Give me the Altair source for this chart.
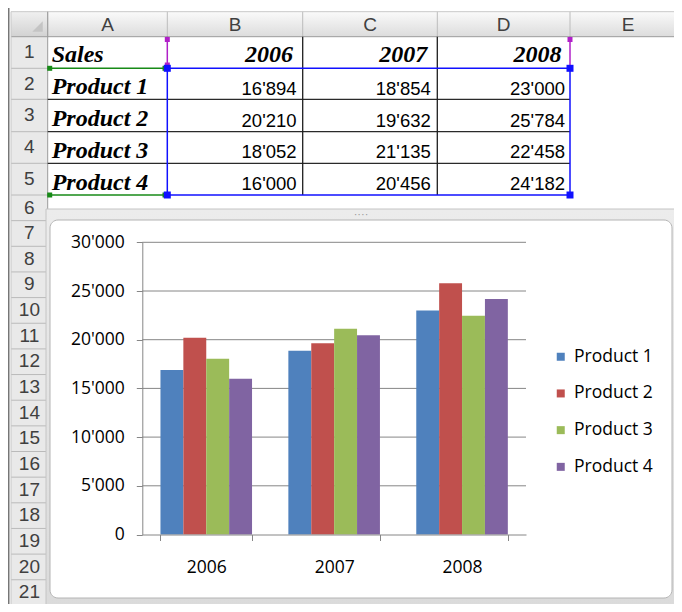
import altair as alt
import pandas as pd

# ---------------- data ----------------
years = ["2006", "2007", "2008"]
products = ["Product 1", "Product 2", "Product 3", "Product 4"]
product_1 = [16894, 18854, 23000]
product_2 = [20210, 19632, 25784]
product_3 = [18052, 21135, 22458]
product_4 = [16000, 20456, 24182]
y_ticks = [0, 5000, 10000, 15000, 20000, 25000, 30000]
table_title = "Sales"
column_letters = ["A", "B", "C", "D", "E"]
row_numbers = list(range(1, 22))
series_colors = ["#4F81BD", "#C0504D", "#9BBB59", "#8064A2"]

series = [product_1, product_2, product_3, product_4]
sales = pd.DataFrame([
    {"product": p, "year": y, "value": v}
    for p, vals in zip(products, series) for y, v in zip(years, vals)
])
sales["label"] = sales["value"].map(lambda v: f"{v:,}".replace(",", "'"))

# ---------------- layout (reference page pixels) ----------------
M = 8
W, H = 666, 596


def px(v):
    return round(v - M, 2)


COL_EDGES = [11, 47.7, 167.3, 302.7, 437.3, 570, 686]
HDR_TOP, HDR_BOT = 11.7, 36.7
ROW_EDGES = [36.7, 68.3, 99.3, 131.7, 163.3, 195] + [195 + 25.65 * k for k in range(1, 18)]
PLOT_L, PLOT_R, PLOT_T, PLOT_B = 142.3, 526, 242.3, 534.5

CHART_FONT = "Open Sans"
CHART_FS = 17.5
SHEET_FONT = "Liberation Sans"
SERIF = "Liberation Serif"
AXIS_GREY = "#868686"

PX = dict(scale=None, axis=None)


def vgrad(c1, c2):
    return alt.LinearGradient(
        gradient="linear", x1=0, x2=0, y1=0, y2=1,
        stops=[alt.GradientStop(color=c1, offset=0), alt.GradientStop(color=c2, offset=1)],
    )


def rect_layer(x1, x2, y1, y2, **mk):
    df = pd.DataFrame({"x": [px(x1)], "x2": [px(x2)], "y": [px(y1)], "y2": [px(y2)]})
    return alt.Chart(df).mark_rect(**mk).encode(
        x=alt.X("x:Q", **PX), x2="x2:Q", y=alt.Y("y:Q", **PX), y2="y2:Q")


def seg_layer(segs, color, width=1.0):
    df = pd.DataFrame(segs, columns=["x", "x2", "y", "y2"]).apply(lambda c: c - M)
    return alt.Chart(df).mark_rule(color=color, strokeWidth=width).encode(
        x=alt.X("x:Q", **PX), x2="x2:Q", y=alt.Y("y:Q", **PX), y2="y2:Q")


def text_layer(df, **mk):
    d = df.copy()
    d["x"] = d["x"] - M
    d["y"] = d["y"] - M
    return alt.Chart(d).mark_text(**mk).encode(
        x=alt.X("x:Q", **PX), y=alt.Y("y:Q", **PX), text="t:N")


def handle_layer(pts, color, size):
    df = pd.DataFrame(pts, columns=["x", "y"]).apply(lambda c: c - M)
    return alt.Chart(df).mark_square(color=color, size=size, opacity=1).encode(
        x=alt.X("x:Q", **PX), y=alt.Y("y:Q", **PX))


layers = []

# ---------------- spreadsheet chrome ----------------
layers.append(rect_layer(11, 686, HDR_TOP, HDR_BOT, fill=vgrad("#fafafa", "#dcdcdc")))
layers.append(rect_layer(11, 47.7, HDR_TOP, HDR_BOT, fill=vgrad("#f0f0f0", "#d2d2d2")))
layers.append(rect_layer(11, 47.7, HDR_BOT, 620, fill="#e9e9e9"))
tri = pd.DataFrame({"x": [px(37.5)], "y": [px(26.5)]})
layers.append(alt.Chart(tri).mark_point(shape="M1,-1L1,1L-1,1Z", filled=True, size=110,
                                        color="#c4c4c4", opacity=1).encode(
    x=alt.X("x:Q", **PX), y=alt.Y("y:Q", **PX)))
layers.append(seg_layer([(e, e, HDR_TOP, HDR_BOT) for e in COL_EDGES[1:6]], "#bcbcbc"))
layers.append(seg_layer([(11, 686, HDR_TOP, HDR_TOP)], "#c8c8c8"))
layers.append(seg_layer([(11, 686, HDR_BOT, HDR_BOT)], "#9c9c9c"))
layers.append(seg_layer([(11, 47.7, e, e) for e in ROW_EDGES[1:]], "#bababa"))
layers.append(seg_layer([(47.7, 47.7, HDR_TOP, 620)], "#9c9c9c"))
layers.append(seg_layer([(11, 11, HDR_TOP, 620)], "#c8c8c8"))
layers.append(seg_layer([(8.7, 8.7, 4, 620)], "#767676", 1.6))

letters = pd.DataFrame({
    "x": [(COL_EDGES[i + 1] + COL_EDGES[i + 2]) / 2 for i in range(len(column_letters))],
    "y": [(HDR_TOP + HDR_BOT) / 2 + 0.5] * len(column_letters),
    "t": column_letters,
})
layers.append(text_layer(letters, font=SHEET_FONT, fontSize=19, color="#404040",
                         align="center", baseline="middle"))
rows = pd.DataFrame({
    "x": [29.4] * len(row_numbers),
    "y": [(ROW_EDGES[i] + ROW_EDGES[i + 1]) / 2 - 0.3 for i in range(len(row_numbers))],
    "t": [str(r) for r in row_numbers],
})
layers.append(text_layer(rows, font=SHEET_FONT, fontSize=19, color="#404040",
                         align="center", baseline="middle"))

# ---------------- table borders & selection ----------------
layers.append(seg_layer([(47.7, 570, y, y) for y in ROW_EDGES[2:5]], "#2a2a2a", 1.3))
layers.append(seg_layer([(x, x, HDR_BOT, 195) for x in (302.7, 437.3)], "#1e1e1e", 1.3))
layers.append(seg_layer([(x, x, HDR_BOT, 68.3) for x in (167.3, 570)], "#b020c8", 1.5))
layers.append(seg_layer([(x, x, 68.3, 195) for x in (167.3, 570)] +
                        [(167.3, 570, y, y) for y in (68.3, 195)], "#1010ff", 1.5))
layers.append(seg_layer([(47.7, 167.3, y, y) for y in (68.3, 195)], "#178a17", 1.5))
layers.append(handle_layer([(167.3, 39.5), (570, 39.5), (167.3, 65)], "#b020c8", 25))
layers.append(handle_layer([(49.7, 68.3), (165, 68.3), (49.7, 195), (165, 195)], "#178a17", 25))
layers.append(handle_layer([(167.3, 68.3), (570, 68.3), (167.3, 195), (570, 195)], "#1010ff", 49))

# ---------------- table text (through band scales) ----------------
tx_scale = alt.Scale(type="band", domain=years, range=[px(COL_EDGES[2]), px(COL_EDGES[5])],
                     paddingInner=0, paddingOuter=0)
ty_scale = alt.Scale(type="band", domain=products, range=[px(68.3), px(195)],
                     paddingInner=0, paddingOuter=0)

layers.append(alt.Chart(sales).mark_text(font=SHEET_FONT, fontSize=18.5, color="black",
                                         align="right", baseline="alphabetic",
                                         dx=-5, dy=-5).encode(
    x=alt.X("year:N", scale=tx_scale, axis=None, bandPosition=1),
    y=alt.Y("product:N", scale=ty_scale, axis=None, bandPosition=1),
    text="label:N"))
layers.append(alt.Chart(pd.DataFrame({"year": years})).mark_text(
    font=SERIF, fontSize=24, fontStyle="italic", fontWeight="bold", color="black",
    align="right", baseline="alphabetic", dx=-8.5).encode(
    x=alt.X("year:N", scale=tx_scale, axis=None, bandPosition=1),
    y=alt.value(px(61.7)), text="year:N"))
layers.append(alt.Chart(pd.DataFrame({"product": products})).mark_text(
    font=SERIF, fontSize=24, fontStyle="italic", fontWeight="bold", color="black",
    align="left", baseline="alphabetic", dy=-5.5).encode(
    x=alt.value(px(51.7)),
    y=alt.Y("product:N", scale=ty_scale, axis=None, bandPosition=1), text="product:N"))
layers.append(text_layer(pd.DataFrame({"x": [51.7], "y": [61.7], "t": [table_title]}),
                         font=SERIF, fontSize=24, fontStyle="italic", fontWeight="bold",
                         color="black", align="left", baseline="alphabetic"))

# ---------------- chart object frame ----------------
layers.append(rect_layer(46, 690, 209, 620, fill=vgrad("#ececec", "#dadada"), stroke="#c4c4c4"))
layers.append(rect_layer(50, 672, 220, 598, fill="white", stroke="#b4b4b4", cornerRadius=8))
layers.append(text_layer(pd.DataFrame({"x": [361], "y": [214.5], "t": ["····"]}),
                         fontSize=11, color="#9a9a9a", align="center", baseline="middle"))

# ---------------- column chart ----------------
y_scale = alt.Scale(domain=[0, 30000], range=[px(PLOT_B), px(PLOT_T)], nice=False, zero=True)
x_scale = alt.Scale(domain=years, range=[px(PLOT_L), px(PLOT_R)],
                    paddingInner=0.284, paddingOuter=0.142)

grid = alt.Chart(pd.DataFrame({"t": y_ticks[1:]})).mark_rule(color=AXIS_GREY, strokeWidth=1).encode(
    y=alt.Y("t:Q", scale=y_scale, axis=None),
    x=alt.value(px(PLOT_L)), x2=alt.value(px(PLOT_R)))
layers.append(grid)

label_expr = "replace(format(datum.value, ','), ',', \"'\")"
bars = alt.Chart(sales).mark_bar().encode(
    x=alt.X("year:N", sort=years, scale=x_scale, title=None,
            axis=alt.Axis(orient="bottom", offset=-(H - px(PLOT_B)), labelAngle=0,
                          domainColor=AXIS_GREY, tickColor=AXIS_GREY, tickSize=6,
                          tickBand="extent", labelFont=CHART_FONT, labelFontSize=CHART_FS,
                          labelColor="black", labelPadding=18, zindex=2)),
    xOffset=alt.XOffset("product:N", sort=products),
    y=alt.Y("value:Q", scale=y_scale, title=None,
            axis=alt.Axis(orient="left", offset=-px(PLOT_L), values=y_ticks, labelExpr=label_expr,
                          grid=False, domainColor=AXIS_GREY, tickColor=AXIS_GREY, tickSize=6,
                          labelFont=CHART_FONT, labelFontSize=CHART_FS, labelColor="black",
                          labelPadding=12, zindex=2)),
    color=alt.Color("product:N", sort=products,
                    scale=alt.Scale(domain=products, range=series_colors),
                    legend=alt.Legend(orient="none", legendX=544, legendY=340, title=None,
                                      symbolType="square", symbolSize=64, symbolStrokeWidth=0,
                                      symbolOpacity=1, labelFont=CHART_FONT,
                                      labelFontSize=CHART_FS, labelColor="black",
                                      rowPadding=17.7, labelOffset=4.5, padding=0, zindex=2)),
)
layers.append(bars)

chart = alt.layer(*layers).resolve_scale(
    x="independent", y="independent"
).properties(
    width=W, height=H, padding=0, autosize=alt.AutoSizeParams(type="none")
).configure_view(stroke=None)

chart.save("out.html", embed_options={"renderer": "svg", "actions": False})
